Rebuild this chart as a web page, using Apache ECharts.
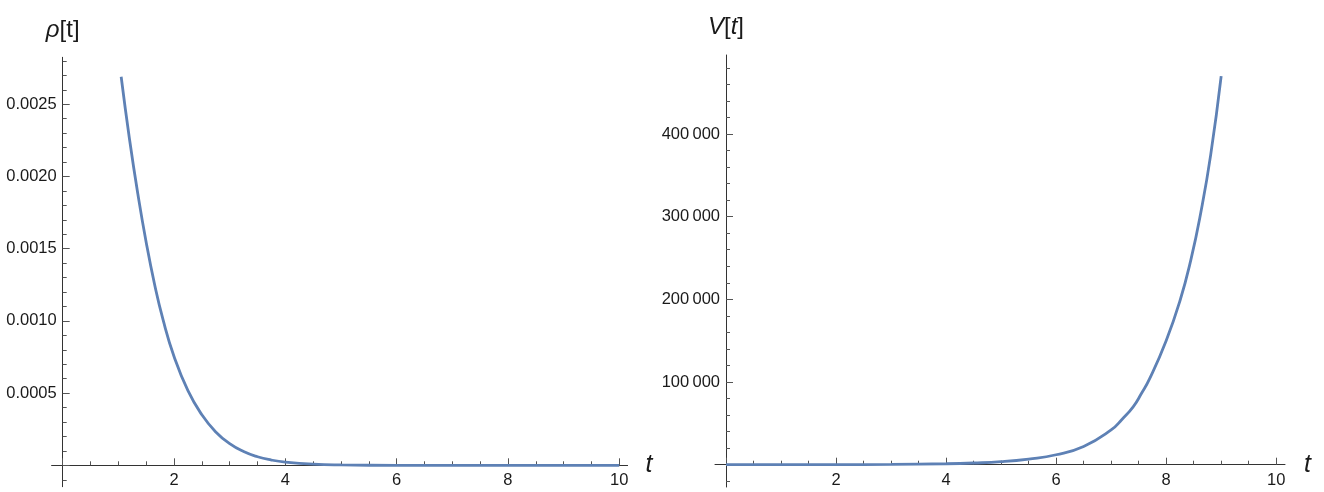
<!DOCTYPE html>
<html>
<head>
<meta charset="utf-8">
<script src="https://cdn.jsdelivr.net/npm/echarts@6/dist/echarts.min.js"></script>
<style>
  html, body { margin: 0; padding: 0; background: #fff; }
  #chart { width: 1324px; height: 492px; }
</style>
</head>
<body>
<div id="chart"></div>
<script>
// 左图 ρ[t] 读数
var rhoT = [1.05, 1.2, 1.35, 1.5, 1.65, 1.8, 2.0, 2.25, 2.5, 2.75, 3.0, 3.25, 3.5, 3.75, 4.0, 4.5, 5.0, 6.0, 7.0, 8.0, 9.0, 10.0];
var rhoV = [0.00269, 0.002258, 0.001878, 0.001543, 0.001254, 0.001012, 0.000754, 0.000517, 0.000350, 0.000231, 0.000150, 0.0000954, 0.0000593, 0.0000365, 0.0000222, 0.0000077, 0.0000026, 0.00000024, 0.00000002, 0, 0, 0];
// 右图 V[t] 读数
var vT = [0, 1, 2, 3, 4, 4.5, 5, 5.5, 6, 6.5, 7, 7.2, 7.4, 7.55, 7.7, 8, 8.25, 8.45, 8.63, 8.81, 9];
var vV = [10, 30, 100, 330, 1100, 2000, 3600, 6800, 12000, 22000, 42000, 55000, 70000, 86000, 104000, 150000, 198000, 248000, 305000, 375000, 470000];
// 刻度
var xMajor = [0, 2, 4, 6, 8, 10];
var xLabels = [2, 4, 6, 8, 10];
var xMinor = [0.5, 1, 1.5, 2.5, 3, 3.5, 4.5, 5, 5.5, 6.5, 7, 7.5, 8.5, 9, 9.5];
var rhoMajor = [0, 0.0005, 0.0010, 0.0015, 0.0020, 0.0025];
var rhoLabels = [0.0005, 0.0010, 0.0015, 0.0020, 0.0025];
var rhoMinor = [-0.0001, 0.0001, 0.0002, 0.0003, 0.0004, 0.0006, 0.0007, 0.0008, 0.0009, 0.0011, 0.0012, 0.0013, 0.0014, 0.0016, 0.0017, 0.0018, 0.0019, 0.0021, 0.0022, 0.0023, 0.0024, 0.0026, 0.0027, 0.0028];
var vMajor = [0, 100000, 200000, 300000, 400000];
var vLabels = [100000, 200000, 300000, 400000];
var vMinor = [-20000, 20000, 40000, 60000, 80000, 120000, 140000, 160000, 180000, 220000, 240000, 260000, 280000, 320000, 340000, 360000, 380000, 420000, 440000, 460000, 480000];

var font = 'Liberation Sans, Arial, sans-serif';
var lineColor = '#5E81B5';

function pairs(xs, ys) {
  var out = [];
  for (var i = 0; i < xs.length; i++) out.push([xs[i], ys[i]]);
  return out;
}

//主刻度轴, offset 把轴线移到另一轴的零点
function majorAxis(grid, pos, min, max, offset, ticks, labels, fmt, name, isX) {
  return {
    type: 'value',
    gridIndex: grid,
    position: pos,
    min: min,
    max: max,
    offset: offset,
    axisLine: { show: true, onZero: false, lineStyle: { color: '#333', width: 1 } },
    axisTick: { show: true, inside: true, length: 7, customValues: ticks, lineStyle: { color: '#555', width: 1 } },
    axisLabel: { show: true, customValues: labels, formatter: fmt, color: '#1a1a1a', fontSize: 16.5, fontFamily: font, margin: isX ? 7 : 6 },
    splitLine: { show: false },
    name: name,
    nameLocation: 'end'
  };
}
//次刻度轴
function minorAxis(grid, pos, min, max, offset, ticks) {
  return {
    type: 'value',
    gridIndex: grid,
    position: pos,
    min: min,
    max: max,
    offset: offset,
    axisLine: { show: false, onZero: false },
    axisTick: { show: true, inside: true, length: 4, customValues: ticks, lineStyle: { color: '#555', width: 1 } },
    axisLabel: { show: false },
    splitLine: { show: false }
  };
}

var chart = echarts.init(document.getElementById('chart'));

var xL = majorAxis(0, 'bottom', -0.2, 10.15, -21.4, xMajor, xLabels, function (v) { return String(v); }, 't', true);
xL.nameGap = 18;
xL.nameTextStyle = { fontSize: 25, fontStyle: 'italic', fontFamily: font, color: '#1a1a1a', verticalAlign: 'middle', padding: [14, 0, 0, 0] };
var xR = majorAxis(1, 'bottom', -0.2, 10.16, -22.3, xMajor, xLabels, function (v) { return String(v); }, 't', true);
xR.nameGap = 19;
xR.nameTextStyle = { fontSize: 25, fontStyle: 'italic', fontFamily: font, color: '#1a1a1a', verticalAlign: 'middle', padding: [12, 0, 0, 0] };

var yL = majorAxis(0, 'left', -0.000148, 0.002825, -11.1, rhoMajor, rhoLabels, function (v) { return v.toFixed(4); }, '{i|ρ}[t]', false);
yL.nameGap = 15;
yL.nameTextStyle = { fontSize: 24, fontFamily: font, color: '#1a1a1a', rich: { i: { fontSize: 24, fontStyle: 'italic', fontFamily: font, color: '#1a1a1a' } } };
var yR = majorAxis(1, 'left', -27000, 495500, -11.0, vMajor, vLabels, function (v) {
  var s = String(v);
  return s.slice(0, s.length - 3) + '\u2009' + s.slice(s.length - 3);
}, '{i|V}[{i|t}]', false);
yR.nameGap = 16;
yR.nameTextStyle = { fontSize: 24, fontFamily: font, color: '#1a1a1a', rich: { i: { fontSize: 24, fontStyle: 'italic', fontFamily: font, color: '#1a1a1a' } } };

var option = {
  animation: false,
  grid: [
    { left: 51.6, top: 57.3, width: 576, height: 429.4, outerBoundsMode: 'none', containLabel: false },
    { left: 715, top: 55, width: 570, height: 432, outerBoundsMode: 'none', containLabel: false }
  ],
  xAxis: [xL, minorAxis(0, 'bottom', -0.2, 10.15, -21.4, xMinor), xR, minorAxis(1, 'bottom', -0.2, 10.16, -22.3, xMinor)],
  yAxis: [yL, minorAxis(0, 'left', -0.000148, 0.002825, -11.1, rhoMinor), yR, minorAxis(1, 'left', -27000, 495500, -11.0, vMinor)],
  series: [
    {
      type: 'line',
      xAxisIndex: 0,
      yAxisIndex: 0,
      data: pairs(rhoT, rhoV),
      showSymbol: false,
      smooth: 0.5,
      lineStyle: { color: lineColor, width: 2.8 },
      itemStyle: { color: lineColor }
    },
    {
      type: 'line',
      xAxisIndex: 2,
      yAxisIndex: 2,
      data: pairs(vT, vV),
      showSymbol: false,
      smooth: 0.5,
      lineStyle: { color: lineColor, width: 2.8 },
      itemStyle: { color: lineColor }
    }
  ]
};
chart.setOption(option);
</script>
</body>
</html>
